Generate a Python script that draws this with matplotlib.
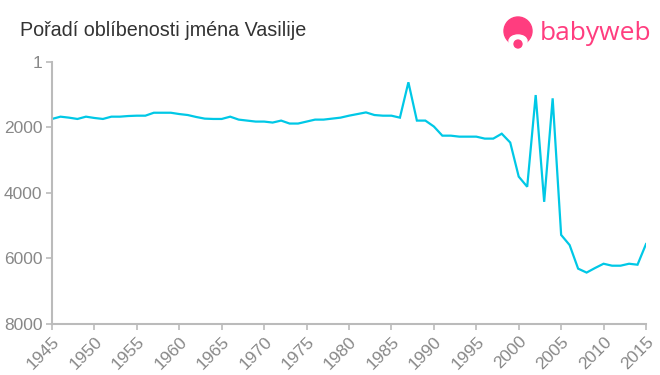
import matplotlib
matplotlib.use("Agg")
import matplotlib.pyplot as plt
from matplotlib.patches import Circle, Ellipse

# ---------------- DATA ----------------
years = list(range(1945, 2016))
ranks = [
    1740, 1670, 1700, 1740, 1670, 1710, 1740, 1670, 1670, 1650,  # 1945-1954
    1640, 1640, 1550, 1550, 1550, 1590, 1620, 1680, 1730, 1740,  # 1955-1964
    1740, 1670, 1760, 1790, 1820, 1820, 1850, 1790, 1880, 1880,  # 1965-1974
    1820, 1760, 1760, 1730, 1700, 1640, 1590, 1540, 1620, 1640,  # 1975-1984
    1640, 1700, 620, 1790, 1790, 1970, 2250, 2250, 2280, 2280,   # 1985-1994
    2280, 2340, 2340, 2190, 2460, 3500, 3810, 1010, 4270, 1110,  # 1995-2004
    5280, 5590, 6310, 6430, 6290, 6160, 6220, 6220, 6160, 6190,  # 2005-2014
    5560,                                                        # 2015
]
x_ticks = list(range(1945, 2016, 5))
y_ticks = [1, 2000, 4000, 6000, 8000]

TITLE = "Pořadí oblíbenosti jména Vasilije"
LINE_COLOR = "#00c8e6"
AXIS_COLOR = "#bbbbbb"
TEXT_COLOR = "#888888"
PINK = "#ff3d7f"

plt.rcParams["font.family"] = ["Liberation Sans", "DejaVu Sans"]

# ---------------- PLOT ----------------
fig = plt.figure(figsize=(6.6, 3.75), dpi=100)
ax = fig.add_axes([52 / 660, 1 - 324 / 375, (646 - 52) / 660, (324 - 62) / 375])

ax.plot(years, ranks, color=LINE_COLOR, lw=1.6, solid_joinstyle="miter")

ax.set_xlim(1945, 2015)
ax.set_ylim(8000, 1)
ax.set_xticks(x_ticks)
ax.set_yticks(y_ticks)
ax.set_xticklabels([str(y) for y in x_ticks], rotation=45, ha="right",
                   rotation_mode="anchor")

for side in ["top", "right"]:
    ax.spines[side].set_visible(False)
for side in ["left", "bottom"]:
    ax.spines[side].set_color(AXIS_COLOR)
    ax.spines[side].set_linewidth(1.5)

ax.tick_params(axis="both", colors=AXIS_COLOR, length=4, width=1.2,
               labelcolor=TEXT_COLOR, labelsize=12.5)
ax.tick_params(axis="y", pad=3)
ax.tick_params(axis="x", pad=3)

fig.text(20 / 660, 1 - 31 / 375, TITLE, fontsize=14.2, color="#333333",
         ha="left", va="center")

# ---------------- LOGO ----------------
la = fig.add_axes([0, 0, 1, 1], zorder=5)
la.set_xlim(0, 660)
la.set_ylim(375, 0)
la.axis("off")
la.add_patch(Circle((518, 31), 14, color=PINK))
la.add_patch(Ellipse((518, 41), 18, 12, color="white"))
la.add_patch(Circle((518, 44), 5.5, facecolor=PINK, edgecolor="white", lw=1.2))
la.text(540, 34, "babyweb", fontsize=19, color=PINK, ha="left", va="center",
        family="Open Sans")

fig.savefig("out.png", dpi=100)
